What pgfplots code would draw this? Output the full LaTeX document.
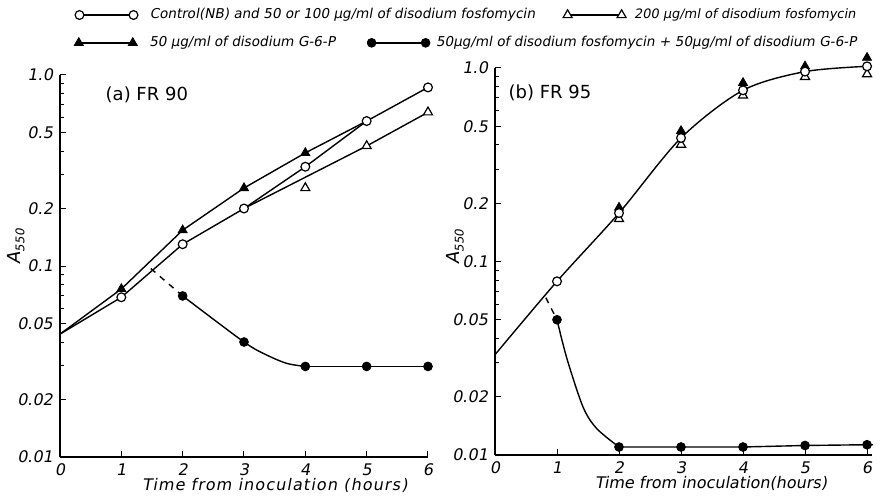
\documentclass[border=0pt]{standalone}
\usepackage{fontspec}
\setmainfont{DejaVu Sans}[FakeSlant=0.18]
\newfontfamily\uprfont{DejaVu Sans}
\newfontfamily\spacedfont{DejaVu Sans}[FakeSlant=0.18, LetterSpace=7]
\usepackage{pgfplots}
\pgfplotsset{compat=1.18}

\pgfplotsset{
  curve/.style={black, line width=0.7pt, no marks},
  ocirc/.style={only marks, mark=*, mark size=2.2pt,
    mark options={fill=white, draw=black, line width=0.6pt}},
  fcirc/.style={only marks, mark=*, mark size=2.2pt,
    mark options={fill=black, draw=black}},
  otri/.style={only marks, mark=triangle*, mark size=2.6pt,
    mark options={fill=white, draw=black, line width=0.6pt}},
  ftri/.style={only marks, mark=triangle*, mark size=2.6pt,
    mark options={fill=black, draw=black}},
}

\begin{document}
\begin{tikzpicture}
% (a) FR 90
\begin{axis}[at={(0pt,0pt)}, anchor=south west,
  scale only axis, width=184pt, height=191pt,
  ymode=log, xmin=0, xmax=6, ymin=0.01, ymax=1.0,
  axis x line*=bottom, axis y line*=left,
  axis line style={-, line width=0.6pt},
  tick align=inside, major tick length=3pt, minor tick length=2pt,
  tick style={black, line width=0.5pt},
  xtick={0,1,2,3,4,5,6}, xticklabels={0,1,2,3,4,5,6},
  ytick={0.01,0.02,0.05,0.1,0.2,0.5,1},
  yticklabels={0.01,0.02,0.05,0.1,0.2,0.5,1.0},
  minor ytick={0.03,0.04,0.06,0.07,0.08,0.09,0.3,0.4,0.6,0.7,0.8,0.9},
  tick label style={font=\fontsize{8}{9}\selectfont},
  clip=false,
  xlabel={Time from inoculation (hours)},
  xlabel style={font=\spacedfont\fontsize{8}{9}\selectfont, at={(axis description cs:0.584,0)}, anchor=north, yshift=-7pt},
  ylabel={A{\fontsize{6}{6}\selectfont\raisebox{-2pt}{550}}},
  ylabel style={font=\fontsize{9}{10}\selectfont, at={(axis description cs:-0.12,0.55)}, anchor=center},
  legend style={draw=none, fill=none, inner sep=0pt, legend columns=-1,
    font=\fontsize{6.8}{7}\selectfont,
    at={(axis description cs:0.040,1.157)}, anchor=west,
    /tikz/every odd column/.append style={column sep=4pt}},
  legend image code/.code={
    \draw[black, line width=0.7pt] (0pt,0pt) -- (27pt,0pt);
    \draw[#1] plot coordinates {(0pt,0pt) (27pt,0pt)};},
]
\addplot[curve, forget plot] coordinates {(0,0.044) (1,0.0686) (2,0.130) (3,0.200) (4,0.331) (5,0.574) (6,0.861)};
\addplot[curve, forget plot] coordinates {(0,0.044) (1,0.0758) (2,0.154) (3,0.256) (4,0.391) (5,0.574)};
\addplot[curve, forget plot] coordinates {(3,0.200) (5,0.425) (6,0.638)};
\addplot[curve, dashed, forget plot] coordinates {(1.48,0.097) (2,0.0697)};
\addplot[curve, smooth, forget plot] coordinates {(2,0.0697) (3,0.040) (3.37,0.0342) (3.7,0.0309) (4,0.0298)};
\addplot[curve, forget plot] coordinates {(4,0.0298) (5,0.0298) (6,0.0298)};
\addplot[ftri, forget plot] coordinates {(1,0.0758) (2,0.154) (3,0.256) (4,0.391)};
\addplot[fcirc, forget plot] coordinates {(2,0.0697) (3,0.040) (4,0.0298) (5,0.0298) (6,0.0298)};
\addplot[ocirc] coordinates {(1,0.0686) (2,0.130) (3,0.200) (4,0.331) (5,0.574) (6,0.861)};
\addlegendentry{Control(NB) and 50 or 100 μg/ml of disodium fosfomycin\rule{12pt}{0pt}}
\addplot[otri] coordinates {(4,0.256) (5,0.425) (6,0.638)};
\addlegendentry{\hspace{-2pt}\fontsize{6.5}{7}\selectfont 200 μg/ml of disodium fosfomycin}
\node[anchor=center, font=\uprfont\fontsize{9}{10}\selectfont] at (axis description cs:0.236,0.948) {(a) FR 90};
\end{axis}
% (b) FR 95
\begin{axis}[at={(217.5pt,1pt)}, anchor=south west,
  scale only axis, width=188.5pt, height=193.5pt,
  ymode=log, xmin=0, xmax=6.08, ymin=0.01, ymax=1.0,
  axis x line*=bottom, axis y line*=left,
  axis line style={-, line width=0.6pt},
  tick align=inside, major tick length=3pt, minor tick length=2pt,
  tick style={black, line width=0.5pt},
  xtick={0,1,2,3,4,5,6}, xticklabels={0,1,2,3,4,5,6},
  ytick={0.01,0.02,0.05,0.1,0.2,0.5,1},
  yticklabels={0.01,0.02,0.05,0.1,0.2,0.5,1.0},
  minor ytick={0.03,0.04,0.06,0.07,0.08,0.09,0.3,0.4,0.6,0.7,0.8,0.9},
  tick label style={font=\fontsize{8}{9}\selectfont},
  clip=false,
  xlabel={Time from inoculation(hours)},
  xlabel style={font=\fontsize{8}{9}\selectfont, at={(axis description cs:0.573,0)}, anchor=north, yshift=-7pt},
  ylabel={A{\fontsize{6}{6}\selectfont\raisebox{-2pt}{550}}},
  ylabel style={font=\fontsize{9}{10}\selectfont, at={(axis description cs:-0.106,0.537)}, anchor=center},
  legend style={draw=none, fill=none, inner sep=0pt, legend columns=-1,
    font=\fontsize{6.8}{7}\selectfont,
    at={(axis description cs:-1.117,1.065)}, anchor=west,
    /tikz/every odd column/.append style={column sep=4pt}},
  legend image code/.code={
    \draw[black, line width=0.7pt] (0pt,0pt) -- (27pt,0pt);
    \draw[#1] plot coordinates {(0pt,0pt) (27pt,0pt)};},
]
\addplot[curve, smooth, forget plot] coordinates {(0,0.033) (1,0.079) (2,0.178) (3,0.435) (4,0.767) (5,0.958) (6,1.02)};
\addplot[curve, dashed, forget plot] coordinates {(0.82,0.065) (1,0.05)};
\addplot[curve, smooth, forget plot] coordinates {(1,0.05) (1.16,0.0315) (1.42,0.0177) (1.64,0.0137) (2,0.011)};
\addplot[curve, forget plot] coordinates {(2,0.011) (3,0.011) (4,0.011) (5,0.0112) (6,0.0113) (6.1,0.0113)};
\addplot[ftri] coordinates {(2,0.19) (3,0.473) (4,0.838) (5,1.02) (6,1.13)};
\addlegendentry{50 μg/ml of disodium G-6-P\hspace*{14pt}}
\addplot[otri, forget plot] coordinates {(2,0.166) (3,0.402) (4,0.721) (5,0.90) (6,0.93)};
\addplot[ocirc, forget plot] coordinates {(1,0.079) (2,0.178) (3,0.435) (4,0.767) (5,0.958) (6,1.02)};
\addplot[fcirc] coordinates {(1,0.05) (2,0.011) (3,0.011) (4,0.011) (5,0.0112) (6,0.0113)};
\addlegendentry{\hspace{-3pt}50μg/ml of disodium fosfomycin + 50μg/ml of disodium G-6-P}
\node[anchor=center, font=\uprfont\fontsize{9}{10}\selectfont] at (axis description cs:0.146,0.935) {(b) FR 95};
\end{axis}
\pgfresetboundingbox
\path (-30pt,-19.5pt) rectangle (410.5pt,228.5pt);
\end{tikzpicture}
\end{document}
